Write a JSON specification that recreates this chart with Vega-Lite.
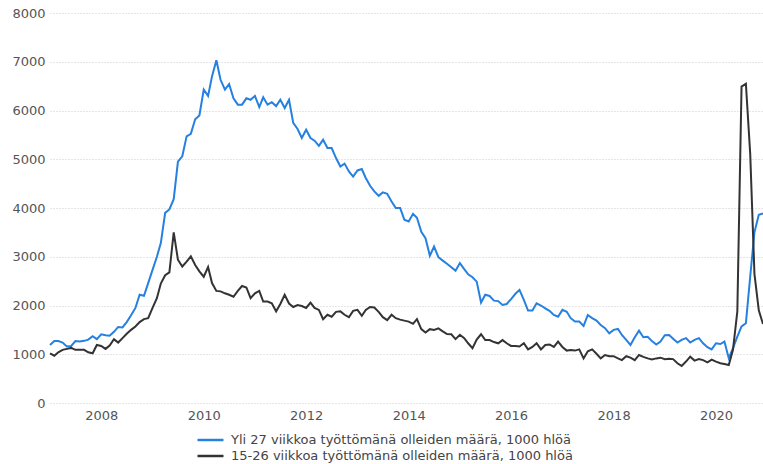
{
  "$schema": "https://vega.github.io/schema/vega-lite/v6.json",
  "width": 713,
  "height": 390,
  "autosize": {"type": "none"},
  "padding": {"left": 50, "top": 13, "right": 0, "bottom": 61},
  "background": "white",
  "config": {
    "view": {"stroke": null},
    "font": "DejaVu Sans"
  },
  "data": {
    "values": [
      {"d":"2007/01/01","a":1190,"b":1020},{"d":"2007/02/01","a":1270,"b":970},{"d":"2007/03/01","a":1270,"b":1040},{"d":"2007/04/01","a":1240,"b":1090},{"d":"2007/05/01","a":1160,"b":1110},{"d":"2007/06/01","a":1170,"b":1130},{"d":"2007/07/01","a":1270,"b":1090},{"d":"2007/08/01","a":1260,"b":1090},{"d":"2007/09/01","a":1275,"b":1090},{"d":"2007/10/01","a":1300,"b":1040},{"d":"2007/11/01","a":1370,"b":1020},{"d":"2007/12/01","a":1310,"b":1190},
      {"d":"2008/01/01","a":1410,"b":1170},{"d":"2008/02/01","a":1390,"b":1110},{"d":"2008/03/01","a":1380,"b":1180},{"d":"2008/04/01","a":1460,"b":1310},{"d":"2008/05/01","a":1560,"b":1240},{"d":"2008/06/01","a":1550,"b":1330},{"d":"2008/07/01","a":1660,"b":1420},{"d":"2008/08/01","a":1800,"b":1500},{"d":"2008/09/01","a":1950,"b":1570},{"d":"2008/10/01","a":2220,"b":1660},{"d":"2008/11/01","a":2200,"b":1720},{"d":"2008/12/01","a":2460,"b":1740},
      {"d":"2009/01/01","a":2730,"b":1950},{"d":"2009/02/01","a":3000,"b":2150},{"d":"2009/03/01","a":3280,"b":2450},{"d":"2009/04/01","a":3900,"b":2620},{"d":"2009/05/01","a":3970,"b":2680},{"d":"2009/06/01","a":4180,"b":3500},{"d":"2009/07/01","a":4950,"b":2940},{"d":"2009/08/01","a":5060,"b":2800},{"d":"2009/09/01","a":5470,"b":2900},{"d":"2009/10/01","a":5520,"b":3010},{"d":"2009/11/01","a":5820,"b":2830},{"d":"2009/12/01","a":5900,"b":2700},
      {"d":"2010/01/01","a":6430,"b":2590},{"d":"2010/02/01","a":6300,"b":2790},{"d":"2010/03/01","a":6700,"b":2460},{"d":"2010/04/01","a":7030,"b":2300},{"d":"2010/05/01","a":6630,"b":2290},{"d":"2010/06/01","a":6430,"b":2250},{"d":"2010/07/01","a":6540,"b":2220},{"d":"2010/08/01","a":6250,"b":2180},{"d":"2010/09/01","a":6120,"b":2300},{"d":"2010/10/01","a":6120,"b":2400},{"d":"2010/11/01","a":6250,"b":2370},{"d":"2010/12/01","a":6220,"b":2150},
      {"d":"2011/01/01","a":6300,"b":2250},{"d":"2011/02/01","a":6070,"b":2300},{"d":"2011/03/01","a":6270,"b":2080},{"d":"2011/04/01","a":6120,"b":2080},{"d":"2011/05/01","a":6170,"b":2045},{"d":"2011/06/01","a":6090,"b":1880},{"d":"2011/07/01","a":6220,"b":2030},{"d":"2011/08/01","a":6050,"b":2220},{"d":"2011/09/01","a":6220,"b":2040},{"d":"2011/10/01","a":5745,"b":1970},{"d":"2011/11/01","a":5620,"b":2010},{"d":"2011/12/01","a":5435,"b":1990},
      {"d":"2012/01/01","a":5605,"b":1950},{"d":"2012/02/01","a":5435,"b":2060},{"d":"2012/03/01","a":5380,"b":1950},{"d":"2012/04/01","a":5275,"b":1910},{"d":"2012/05/01","a":5400,"b":1720},{"d":"2012/06/01","a":5230,"b":1810},{"d":"2012/07/01","a":5230,"b":1770},{"d":"2012/08/01","a":5025,"b":1870},{"d":"2012/09/01","a":4850,"b":1880},{"d":"2012/10/01","a":4910,"b":1810},{"d":"2012/11/01","a":4750,"b":1760},{"d":"2012/12/01","a":4645,"b":1890},
      {"d":"2013/01/01","a":4770,"b":1910},{"d":"2013/02/01","a":4800,"b":1790},{"d":"2013/03/01","a":4615,"b":1910},{"d":"2013/04/01","a":4455,"b":1970},{"d":"2013/05/01","a":4340,"b":1960},{"d":"2013/06/01","a":4250,"b":1870},{"d":"2013/07/01","a":4320,"b":1760},{"d":"2013/08/01","a":4290,"b":1700},{"d":"2013/09/01","a":4135,"b":1810},{"d":"2013/10/01","a":4000,"b":1740},{"d":"2013/11/01","a":4000,"b":1710},{"d":"2013/12/01","a":3760,"b":1690},
      {"d":"2014/01/01","a":3725,"b":1670},{"d":"2014/02/01","a":3880,"b":1625},{"d":"2014/03/01","a":3800,"b":1720},{"d":"2014/04/01","a":3510,"b":1515},{"d":"2014/05/01","a":3380,"b":1445},{"d":"2014/06/01","a":3020,"b":1515},{"d":"2014/07/01","a":3210,"b":1500},{"d":"2014/08/01","a":2990,"b":1530},{"d":"2014/09/01","a":2920,"b":1470},{"d":"2014/10/01","a":2855,"b":1415},{"d":"2014/11/01","a":2785,"b":1410},{"d":"2014/12/01","a":2715,"b":1310},
      {"d":"2015/01/01","a":2870,"b":1400},{"d":"2015/02/01","a":2745,"b":1330},{"d":"2015/03/01","a":2640,"b":1225},{"d":"2015/04/01","a":2580,"b":1125},{"d":"2015/05/01","a":2490,"b":1300},{"d":"2015/06/01","a":2060,"b":1410},{"d":"2015/07/01","a":2220,"b":1290},{"d":"2015/08/01","a":2195,"b":1290},{"d":"2015/09/01","a":2100,"b":1250},{"d":"2015/10/01","a":2090,"b":1225},{"d":"2015/11/01","a":2010,"b":1290},{"d":"2015/12/01","a":2030,"b":1225},
      {"d":"2016/01/01","a":2130,"b":1170},{"d":"2016/02/01","a":2240,"b":1170},{"d":"2016/03/01","a":2320,"b":1160},{"d":"2016/04/01","a":2115,"b":1225},{"d":"2016/05/01","a":1895,"b":1100},{"d":"2016/06/01","a":1895,"b":1150},{"d":"2016/07/01","a":2045,"b":1225},{"d":"2016/08/01","a":2000,"b":1100},{"d":"2016/09/01","a":1940,"b":1190},{"d":"2016/10/01","a":1890,"b":1200},{"d":"2016/11/01","a":1805,"b":1150},{"d":"2016/12/01","a":1770,"b":1260},
      {"d":"2017/01/01","a":1910,"b":1150},{"d":"2017/02/01","a":1870,"b":1075},{"d":"2017/03/01","a":1740,"b":1085},{"d":"2017/04/01","a":1670,"b":1075},{"d":"2017/05/01","a":1670,"b":1100},{"d":"2017/06/01","a":1580,"b":915},{"d":"2017/07/01","a":1805,"b":1060},{"d":"2017/08/01","a":1740,"b":1100},{"d":"2017/09/01","a":1690,"b":1010},{"d":"2017/10/01","a":1600,"b":915},{"d":"2017/11/01","a":1535,"b":985},{"d":"2017/12/01","a":1430,"b":960},
      {"d":"2018/01/01","a":1500,"b":960},{"d":"2018/02/01","a":1520,"b":915},{"d":"2018/03/01","a":1395,"b":880},{"d":"2018/04/01","a":1295,"b":960},{"d":"2018/05/01","a":1190,"b":930},{"d":"2018/06/01","a":1350,"b":880},{"d":"2018/07/01","a":1485,"b":985},{"d":"2018/08/01","a":1350,"b":945},{"d":"2018/09/01","a":1360,"b":915},{"d":"2018/10/01","a":1270,"b":895},{"d":"2018/11/01","a":1200,"b":915},{"d":"2018/12/01","a":1260,"b":930},
      {"d":"2019/01/01","a":1390,"b":900},{"d":"2019/02/01","a":1395,"b":910},{"d":"2019/03/01","a":1320,"b":900},{"d":"2019/04/01","a":1240,"b":815},{"d":"2019/05/01","a":1295,"b":760},{"d":"2019/06/01","a":1330,"b":850},{"d":"2019/07/01","a":1240,"b":950},{"d":"2019/08/01","a":1295,"b":870},{"d":"2019/09/01","a":1330,"b":900},{"d":"2019/10/01","a":1225,"b":880},{"d":"2019/11/01","a":1145,"b":835},{"d":"2019/12/01","a":1100,"b":890},
      {"d":"2020/01/01","a":1225,"b":850},{"d":"2020/02/01","a":1210,"b":815},{"d":"2020/03/01","a":1260,"b":800},{"d":"2020/04/01","a":920,"b":780},{"d":"2020/05/01","a":1125,"b":1090},{"d":"2020/06/01","a":1360,"b":1880},{"d":"2020/07/01","a":1570,"b":6490},{"d":"2020/08/01","a":1635,"b":6550},{"d":"2020/09/01","a":2600,"b":5100},{"d":"2020/10/01","a":3500,"b":2650},{"d":"2020/11/01","a":3860,"b":1900},{"d":"2020/12/01","a":3890,"b":1620}
    ]
  },
  "transform": [{"fold": ["a", "b"], "as": ["s", "v"]}],
  "mark": {"type": "line", "strokeWidth": 2, "interpolate": "linear"},
  "encoding": {
    "x": {
      "field": "d",
      "type": "temporal",
      "scale": {"nice": false},
      "axis": {
        "title": null,
        "format": "%Y",
        "tickCount": {"interval": "year", "step": 2},
        "grid": false,
        "domain": false,
        "ticks": false,
        "labelPadding": 6,
        "labelFontSize": 13,
        "labelColor": "#555555",
        "labelFont": "DejaVu Sans"
      }
    },
    "y": {
      "field": "v",
      "type": "quantitative",
      "scale": {"domain": [0, 8000], "nice": false},
      "axis": {
        "title": null,
        "format": "d",
        "values": [0, 1000, 2000, 3000, 4000, 5000, 6000, 7000, 8000],
        "grid": true,
        "gridColor": "#cccccc",
        "gridDash": [1, 2],
        "gridWidth": 1,
        "domain": false,
        "ticks": false,
        "labelPadding": 5,
        "labelFontSize": 13,
        "labelColor": "#555555",
        "labelFont": "DejaVu Sans"
      }
    },
    "color": {
      "field": "s",
      "type": "nominal",
      "scale": {"domain": ["a", "b"], "range": ["#2680e0", "#333333"]},
      "legend": {
        "title": null,
        "orient": "none",
        "legendX": 152.5,
        "legendY": 419,
        "direction": "vertical",
        "symbolType": "M-2,0H2",
        "symbolSize": 169,
        "symbolStrokeWidth": 2.5,
        "labelFontSize": 13,
        "labelFont": "DejaVu Sans",
        "labelColor": "#444444",
        "labelOffset": 12.5,
        "rowPadding": 1,
        "padding": 0,
        "labelLimit": 500,
        "labelExpr": "datum.value == 'a' ? 'Yli 27 viikkoa työttömänä olleiden määrä, 1000 hlöä' : '15-26 viikkoa työttömänä olleiden määrä, 1000 hlöä'"
      }
    }
  }
}
